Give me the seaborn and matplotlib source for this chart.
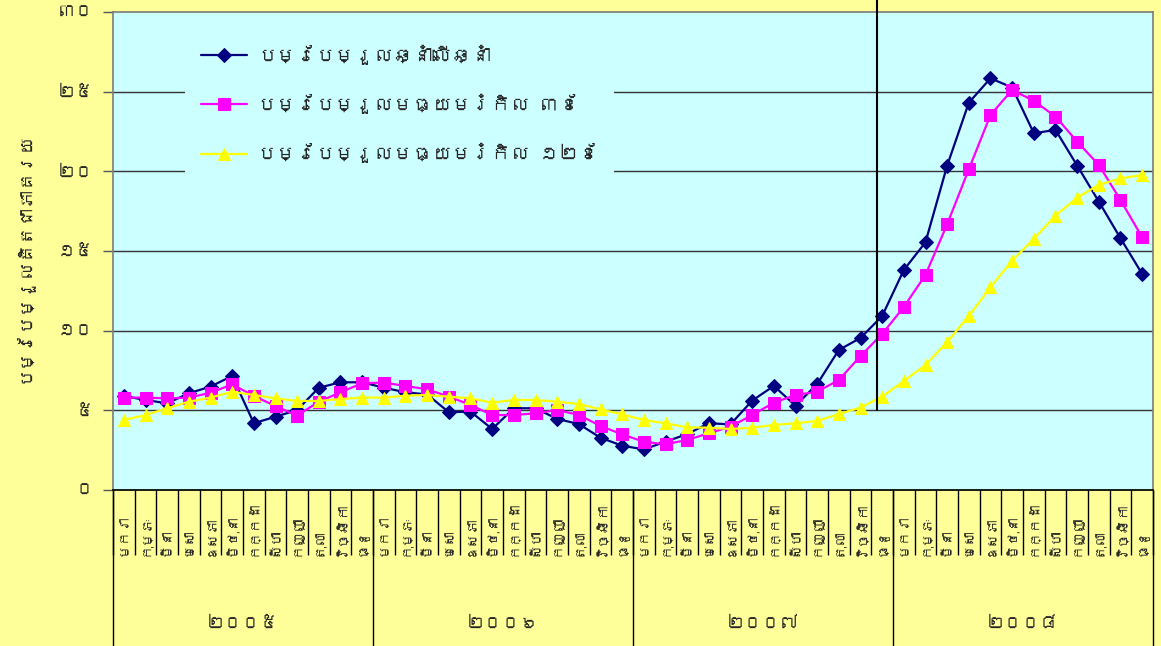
import numpy as np
import pandas as pd
import matplotlib
matplotlib.use('Agg')
import matplotlib.pyplot as plt
import matplotlib.transforms as mtransforms
from matplotlib import font_manager
from matplotlib.ft2font import FT2Font
import seaborn as sns

# Monthly inflation (% change), Jan 2005 - Dec 2008
months = ['មករា', 'កុម្ភៈ', 'មីនា', 'មេសា', 'ឧសភា', 'មិថុនា',
          'កក្កដា', 'សីហា', 'កញ្ញា', 'តុលា', 'វិច្ឆិកា', 'ធ្នូ']
years = ['២០០៥', '២០០៦', '២០០៧', '២០០៨']
ytick_values = [0, 5, 10, 15, 20, 25, 30]
ytick_labels = ['០', '៥', '១០', '១៥', '២០', '២៥', '៣០']

yoy = [5.9, 5.65, 5.44, 6.07, 6.49, 7.16, 4.19, 4.6, 5.02, 6.42, 6.76, 6.76,
       6.42, 6.13, 6.0, 4.88, 4.92, 3.83, 5.13, 5.13, 4.46, 4.14, 3.28, 2.78,
       2.55, 3.03, 3.51, 4.19, 4.12, 5.61, 6.53, 5.29, 6.65, 8.79, 9.54, 10.92,
       13.81, 15.55, 20.36, 24.31, 25.84, 25.26, 22.39, 22.6, 20.36, 18.1, 15.8, 13.56]
ma3 = [5.8, 5.8, 5.75, 5.8, 6.1, 6.63, 5.9, 5.27, 4.67, 5.54, 6.13, 6.7,
       6.74, 6.53, 6.32, 5.86, 5.34, 4.7, 4.71, 4.81, 5.02, 4.71, 4.02, 3.49,
       3.03, 2.87, 3.14, 3.56, 3.97, 4.71, 5.48, 5.96, 6.17, 6.9, 8.41, 9.79,
       11.49, 13.5, 16.68, 20.13, 23.54, 25.11, 24.42, 23.44, 21.86, 20.4, 18.2, 15.86]
ma12 = [4.4, 4.7, 5.13, 5.54, 5.8, 6.17, 5.96, 5.75, 5.59, 5.59, 5.71, 5.8,
        5.8, 5.92, 5.96, 5.86, 5.75, 5.48, 5.65, 5.65, 5.54, 5.4, 5.06, 4.75,
        4.39, 4.19, 3.93, 3.91, 3.83, 3.91, 4.08, 4.19, 4.33, 4.77, 5.17, 5.86,
        6.84, 7.85, 9.29, 10.92, 12.72, 14.4, 15.76, 17.22, 18.35, 19.15, 19.56, 19.77]

series_names = ['បម្រែបម្រួលឆ្នាំលើឆ្នាំ',
                'បម្រែបម្រួលមធ្យមរំកិល ៣ខែ',
                'បម្រែបម្រួលមធ្យមរំកិល ១២ខែ']
ylabel = 'បម្រែបម្រួលគិតជាភាគរយ'
divider_x = 34.75  # vertical marker line (end of 2007)


def find_khmer_font():
    """Return the name of an installed font that has Khmer glyphs, if any."""
    for f in font_manager.fontManager.ttflist:
        try:
            if 0x1780 in FT2Font(f.fname).get_charmap():
                return f.name
        except Exception:
            continue
    return None


sns.set_theme(style='ticks')
khmer = find_khmer_font()
families = ([khmer] if khmer else []) + ['DejaVu Sans']
plt.rcParams['font.family'] = families

BG = '#FFFF99'
PLOT_BG = '#CCFFFF'

fig = plt.figure(figsize=(11.61, 6.46), dpi=100, facecolor=BG)
W, H = 1161, 646
ax = fig.add_axes([113 / W, 1 - 490 / H, 1040 / W, 478 / H], facecolor=PLOT_BG)

n = len(yoy)
idx = np.arange(n)
df = pd.DataFrame({'idx': idx, 'yoy': yoy, 'ma3': ma3, 'ma12': ma12})

for col, name, color, marker, ms in [('yoy', series_names[0], '#000080', 'D', 7),
                                     ('ma3', series_names[1], '#FF00FF', 's', 8),
                                     ('ma12', series_names[2], '#FFFF00', '^', 9)]:
    sns.lineplot(data=df, x='idx', y=col, ax=ax, color=color, marker=marker,
                 markersize=ms, markeredgecolor=color, linewidth=1.6,
                 label=name, zorder=3)

# horizontal gridlines
for v in ytick_values[1:-1]:
    ax.axhline(v, color='#333333', linewidth=1, zorder=1)

ax.set_xlim(-0.5, n - 0.5)
ax.set_ylim(0, 30)
ax.set_xlabel('')
ax.set_ylabel('')

ax.set_yticks(ytick_values)
ax.set_yticklabels(ytick_labels, fontsize=13)
ax.tick_params(axis='y', direction='out', length=7, width=1, pad=7, color='#555555')

# month boundaries as long ticks
ax.set_xticks(np.arange(-0.5, n, 1))
ax.set_xticklabels([])
ax.tick_params(axis='x', direction='out', length=47, width=1, color='black')

for side in ['top', 'right', 'left']:
    ax.spines[side].set_color('#808080')
ax.spines['bottom'].set_color('black')

# month labels and year separators
trans = mtransforms.blended_transform_factory(ax.transData, ax.transAxes)
for i in range(n):
    ax.text(i, -0.138, months[i % 12], rotation=90, ha='center', va='bottom',
            fontsize=10, transform=trans)
for k, yr in enumerate(years):
    ax.axvline(k * 12 - 0.5, ymin=-0.326, ymax=0, color='black', linewidth=1,
               clip_on=False)
    ax.text(k * 12 + 5.5, -0.28, yr, ha='center', va='center', fontsize=13,
            transform=trans)
ax.axvline(n - 0.5, ymin=-0.326, ymax=0, color='black', linewidth=1, clip_on=False)

# divider line
ax.plot([divider_x, divider_x], [5, 30.75], color='black', linewidth=1.5,
        clip_on=False, zorder=4)

fig.text(22 / W, 1 - 257 / H, ylabel, rotation=90, ha='center', va='center',
         fontsize=13, fontweight='bold')

leg = ax.legend(loc='upper left', bbox_to_anchor=(0.06, 0.985), fontsize=14,
                frameon=True, facecolor=PLOT_BG, edgecolor='none', framealpha=1,
                handlelength=2.4, handletextpad=0.5, labelspacing=1.5,
                borderpad=0.8)
leg.set_zorder(5)

fig.savefig('out.png', dpi=100, facecolor=BG)
